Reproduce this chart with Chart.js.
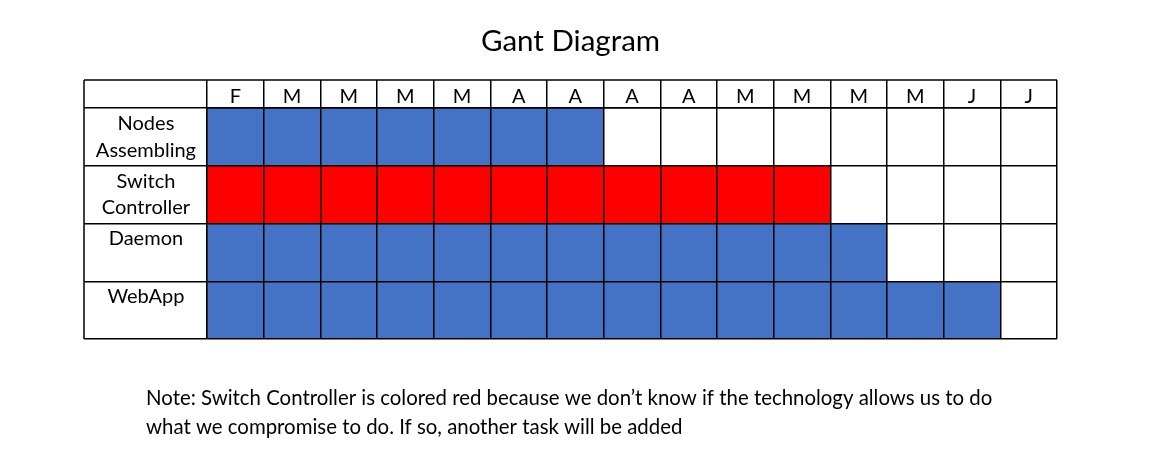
<!DOCTYPE html>
<html>
<head>
<meta charset="utf-8">
<script src="https://cdn.jsdelivr.net/npm/chart.js@4.4.1/dist/chart.umd.min.js"></script>
<style>
  html, body { margin: 0; padding: 0; background: #ffffff; }
  #wrap { width: 1150px; height: 466px; }
</style>
</head>
<body>
<div id="wrap"><canvas id="c" width="1150" height="466"></canvas></div>
<script>
// ---- data ----
const chartTitle = 'Gant Diagram';
const months = ['F', 'M', 'M', 'M', 'M', 'A', 'A', 'A', 'A', 'M', 'M', 'M', 'M', 'J', 'J'];
const tasks = [['Nodes', 'Assembling'], ['Switch', 'Controller'], ['Daemon', ''], ['WebApp', '']];
const taskStart = [0, 0, 0, 0];
const taskEnd = [7, 11, 12, 14];
const taskColors = ['#4472C4', '#FF0000', '#4472C4', '#4472C4'];
const noteLines = [
  'Note: Switch Controller is colored red because we don\u2019t know if the technology allows us to do',
  'what we compromise to do. If so, another task will be added'
];

const FONT = 'Lato, "Open Sans", sans-serif';
const LINE = '#000000';
const LW = 1.5;

const frameAndNote = {
  id: 'frameAndNote',
  afterDraw(chart) {
    const ctx = chart.ctx;
    const y = chart.scales.y;
    const top = chart.scales.xm.top;
    const bottom = chart.chartArea.bottom;
    const left = y.left;
    const right = chart.chartArea.right;
    ctx.save();
    ctx.strokeStyle = LINE;
    ctx.lineWidth = LW;
    ctx.beginPath();
    ctx.moveTo(left, top); ctx.lineTo(right, top);
    ctx.moveTo(left, top); ctx.lineTo(left, bottom);
    ctx.stroke();
    ctx.fillStyle = '#000';
    ctx.font = '20.4px ' + FONT;
    ctx.textBaseline = 'alphabetic';
    ctx.textAlign = 'left';
    noteLines.forEach((t, i) => ctx.fillText(t, 146, 405 + i * 29));
    ctx.restore();
  }
};

new Chart(document.getElementById('c'), {
  type: 'bar',
  data: {
    labels: tasks,
    datasets: [{
      data: tasks.map((t, i) => [taskStart[i], taskEnd[i]]),
      backgroundColor: taskColors,
      borderWidth: 0,
      categoryPercentage: 1,
      barPercentage: 1
    }]
  },
  options: {
    indexAxis: 'y',
    responsive: false,
    animation: false,
    devicePixelRatio: 1,
    layout: { padding: { left: 84, right: 93, top: 0, bottom: 127 } },
    plugins: {
      legend: { display: false },
      tooltip: { enabled: false },
      title: {
        display: true,
        text: chartTitle,
        color: '#000',
        font: { family: FONT, size: 29.5, weight: 'normal', lineHeight: 1.2 },
        padding: { top: 23.8, bottom: 20.8 }
      }
    },
    scales: {
      x: {
        type: 'linear',
        min: 0,
        max: 15,
        position: 'bottom',
        ticks: { display: false, stepSize: 1 },
        grid: { color: LINE, lineWidth: LW, drawTicks: false, z: 1 },
        border: { display: false },
        afterFit: s => { s.height = 0; }
      },
      xm: {
        type: 'category',
        labels: months,
        position: 'top',
        offset: true,
        ticks: { color: '#000', font: { family: FONT, size: 20 }, padding: -29, maxRotation: 0, autoSkip: false, z: 1 },
        grid: { color: LINE, lineWidth: LW, drawOnChartArea: false, drawTicks: true, tickLength: 28, offset: true, z: 1 },
        border: { display: true, color: LINE, width: LW, z: 1 },
        afterFit: s => { s.height = 28; }
      },
      y: {
        type: 'category',
        offset: true,
        ticks: { color: '#000', font: { family: FONT, size: 20, lineHeight: 1.335 }, crossAlign: 'center', padding: -112, autoSkip: false, z: 1 },
        grid: { color: LINE, lineWidth: LW, offset: true, drawTicks: true, tickLength: 123, z: 1 },
        border: { display: true, color: LINE, width: LW, z: 1 },
        afterFit: s => { s.width = 123; }
      }
    }
  },
  plugins: [frameAndNote]
});
</script>
</body>
</html>
